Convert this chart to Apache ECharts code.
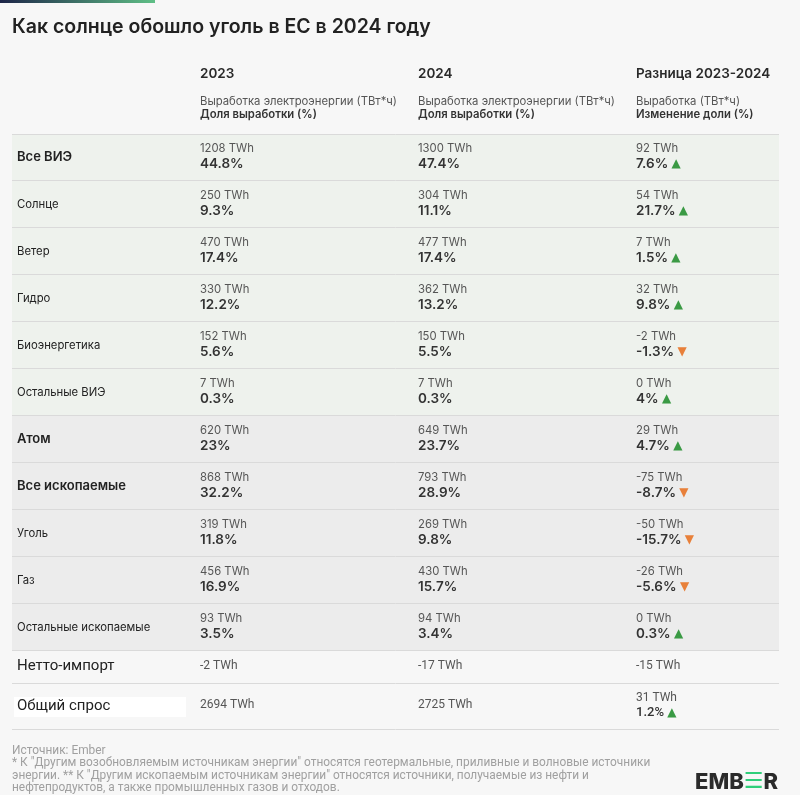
<!DOCTYPE html>
<html><head><meta charset="utf-8">
<script src="https://cdn.jsdelivr.net/npm/echarts@6/dist/echarts.min.js"></script>
<style>html,body{margin:0;padding:0;background:#f7f7f7}#c{width:800px;height:795px}</style>
</head><body><div id="c"></div>
<script>
const categories = ['Все ВИЭ','Солнце','Ветер','Гидро','Биоэнергетика','Остальные ВИЭ','Атом','Все ископаемые','Уголь','Газ','Остальные ископаемые','Нетто-импорт','Общий спрос'];
const twh2023 = [1208,250,470,330,152,7,620,868,319,456,93,-2,2694];
const share2023 = [44.8,9.3,17.4,12.2,5.6,0.3,23,32.2,11.8,16.9,3.5,null,null];
const twh2024 = [1300,304,477,362,150,7,649,793,269,430,94,-17,2725];
const share2024 = [47.4,11.1,17.4,13.2,5.5,0.3,23.7,28.9,9.8,15.7,3.4,null,null];
const twhDiff = [92,54,7,32,-2,0,29,-75,-50,-26,0,-15,31];
const shareDiff = [7.6,21.7,1.5,9.8,-1.3,4,4.7,-8.7,-15.7,-5.6,0.3,null,1.2];
const columnTitles = ['2023','2024','Разница 2023-2024'];
const columnSub1 = ['Выработка электроэнергии (ТВт*ч)','Выработка электроэнергии (ТВт*ч)','Выработка (ТВт*ч)'];
const columnSub2 = ['Доля выработки (%)','Доля выработки (%)','Изменение доли (%)'];
const groupOf = ['ren','ren','ren','ren','ren','ren','oth','oth','oth','oth','oth','plain','plain'];
const boldRows = [0,6,7];
const footerLines = [
  'Источник: Ember',
  '* К "Другим возобновляемым источникам энергии" относятся геотермальные, приливные и волновые источники',
  'энергии. ** К "Другим ископаемым источникам энергии" относятся источники, получаемые из нефти и',
  'нефтепродуктов, а также промышленных газов и отходов.'
];

const F = 'Inter, "Noto Sans", sans-serif';
const FR = 'Roboto, "Noto Sans", sans-serif';
const BG = {ren:'#eef2ed', oth:'#ececec', plain:'#f7f7f7'};
const COLX = [188, 406, 624];

function fmtPct(v){ return String(v) + '%'; }
function fmtTwh(v){ return String(v) + ' TWh'; }

function renderItem(params, api){
  const i = api.value(2);
  const yc = api.value(1);
  const c = api.coord([0, yc]);
  const h = api.size([0, 1])[1];
  const cs = params.coordSys;
  const top = c[1] - h/2;
  const mid = c[1];
  const children = [];
  children.push({type:'rect', shape:{x:cs.x, y:top, width:cs.width, height:h}, style:{fill:BG[groupOf[i]]}});
  children.push({type:'line', shape:{x1:cs.x, y1:top+h-0.5, x2:cs.x+cs.width, y2:top+h-0.5}, style:{stroke:'#dadada', lineWidth:1}});
  if (i === 0) children.push({type:'line', shape:{x1:cs.x, y1:top+0.5, x2:cs.x+cs.width, y2:top+0.5}, style:{stroke:'#dadada', lineWidth:1}});
  const plain = groupOf[i] === 'plain';
  const bold = boldRows.indexOf(i) >= 0;
  if (i === 12) {
    children.push({type:'rect', shape:{x:cs.x+2, y:mid-10, width:172, height:20}, style:{fill:'#ffffff'}});
  }
  children.push({type:'text', style:{
    x: cs.x+5, y: plain ? mid-1 : mid, text: categories[i],
    fill:'#222', verticalAlign:'middle', align:'left',
    font: plain ? ('400 15px ' + FR) : (bold ? ('600 13px ' + F) : ('400 11.3px ' + F))
  }});
  const twh = [twh2023[i], twh2024[i], twhDiff[i]];
  const sh = [share2023[i], share2024[i], shareDiff[i]];
  for (let k=0;k<3;k++){
    const x = cs.x + COLX[k];
    const hasShare = sh[k] !== null;
    if (plain) {
      const y1 = hasShare ? mid-9 : mid-2;
      children.push({type:'text', style:{x:x, y:y1, text:fmtTwh(twh[k]), fill:'#555', verticalAlign:'middle', font:'400 12px ' + FR}});
      if (hasShare) {
        const up = sh[k] >= 0;
        children.push({type:'text', style:{x:x, y:mid+6, text:'{p|' + fmtPct(sh[k]) + '} {a|' + (up?'▲':'▼') + '}', verticalAlign:'middle',
          rich:{p:{font:'500 13px ' + FR, fill:'#333'}, a:{font:'400 12px "DejaVu Sans"', fill: up?'#3a9a44':'#e8803a'}}}});
      }
    } else {
      children.push({type:'text', style:{x:x, y:top+15, text:fmtTwh(twh[k]), fill:'#555', verticalAlign:'middle', font:'400 11.3px ' + F}});
      if (k < 2) {
        children.push({type:'text', style:{x:x, y:top+30, text:fmtPct(sh[k]), fill:'#333', verticalAlign:'middle', font:'600 13.5px ' + F}});
      } else {
        const up = sh[k] >= 0;
        children.push({type:'text', style:{x:x, y:top+30, text:'{p|' + fmtPct(sh[k]) + '} {a|' + (up?'▲':'▼') + '}', verticalAlign:'middle',
          rich:{p:{font:'600 13.5px ' + F, fill:'#333'}, a:{font:'400 12px "DejaVu Sans"', fill: up?'#3a9a44':'#e8803a'}}}});
      }
    }
  }
  return {type:'group', children: children};
}

const groups = [[0,11],[11,12],[12,13]];
const gridTops = [134, 651, 684];
const gridHeights = [517, 33, 46];
const grids = [], xAxes = [], yAxes = [], series = [];
groups.forEach((g, gi) => {
  grids.push({left:12, width:767, top:gridTops[gi], height:gridHeights[gi]});
  xAxes.push({type:'value', gridIndex:gi, min:0, max:1, show:false});
  const cats = categories.slice(g[0], g[1]);
  yAxes.push({type:'category', gridIndex:gi, data:cats, inverse:true, show:false});
  const data = cats.map((c, j) => [0, j, g[0]+j]);
  series.push({type:'custom', xAxisIndex:gi, yAxisIndex:gi, renderItem:renderItem, data:data, encode:{x:0, y:1}, silent:true, clip:false});
});

const graphic = [
  {type:'rect', left:0, top:0, shape:{width:155, height:3}, style:{fill:new echarts.graphic.LinearGradient(0,0,1,0,[{offset:0,color:'#1d2548'},{offset:1,color:'#5fbf86'}])}}
];
columnTitles.forEach((t, k) => {
  const x = 12 + COLX[k];
  graphic.push({type:'text', x:x, y:74, style:{text:t, font:'600 13.5px ' + F, fill:'#2a2a2a', verticalAlign:'middle'}});
  graphic.push({type:'text', x:x, y:102, style:{text:columnSub1[k], font:'400 11.3px ' + F, fill:'#555', verticalAlign:'middle'}});
  graphic.push({type:'text', x:x, y:115, style:{text:columnSub2[k], font:'600 11.3px ' + F, fill:'#333', verticalAlign:'middle'}});
});
const footerY = [751, 763, 776, 788];
footerLines.forEach((t, k) => {
  graphic.push({type:'text', x:12, y:footerY[k], style:{text:t, font:'400 11.9px ' + FR, fill:'#a0a0a0', verticalAlign:'middle'}});
});
graphic.push({type:'text', x:695, y:782, style:{text:'EMB{g|☰}R', verticalAlign:'middle', font:'800 22px ' + F, fill:'#2b2b2b',
  rich:{g:{font:'800 22px "DejaVu Sans"', fill:'#2fcf7a'}}}});

const chart = echarts.init(document.getElementById('c'), null, {renderer:'canvas'});
chart.setOption({
  backgroundColor:'#f7f7f7',
  animation:false,
  title:{text:'Как солнце обошло уголь в ЕС в 2024 году', left:12, top:17, padding:0, textStyle:{fontFamily:F, fontSize:19.5, fontWeight:600, color:'#222'}},
  grid:grids, xAxis:xAxes, yAxis:yAxes, series:series, graphic:graphic
});
</script></body></html>
